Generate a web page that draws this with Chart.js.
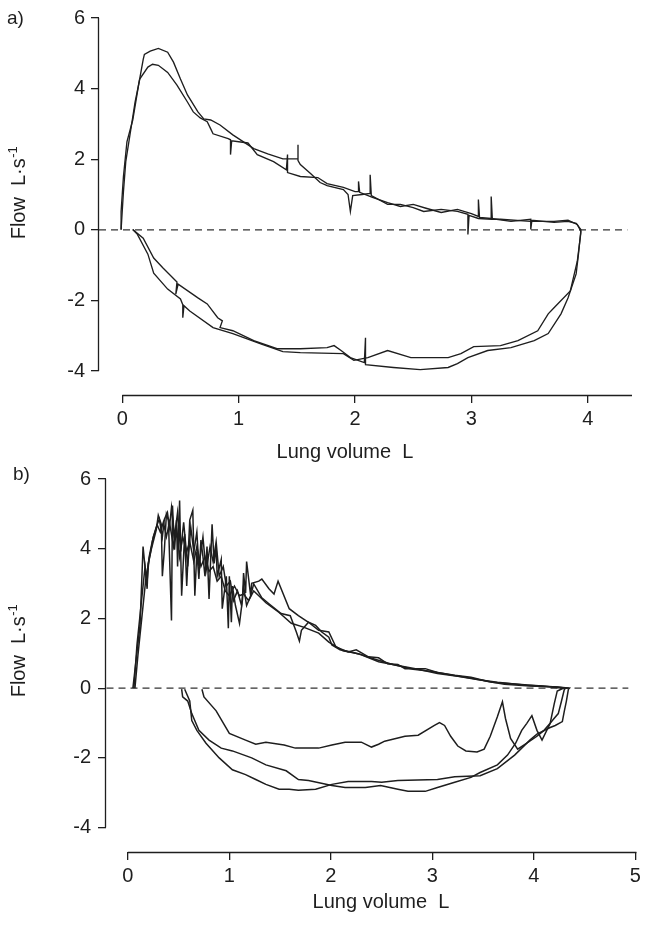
<!DOCTYPE html>
<html>
<head>
<meta charset="utf-8">
<script src="https://cdn.jsdelivr.net/npm/chart.js@4.4.1/dist/chart.umd.min.js"></script>
<style>
  body { margin: 0; background: #fff; }
  .panel { position: absolute; left: 0; width: 645px; }
  #wrapA { top: 0; height: 472px; z-index: 2; }
  #wrapB { top: 460px; height: 466px; z-index: 1; }
</style>
</head>
<body>
<div class="panel" id="wrapA"><canvas id="chartA" width="645" height="472"></canvas></div>
<div class="panel" id="wrapB"><canvas id="chartB" width="645" height="466"></canvas></div>
<script>
// tick labels
const xTicksA = [0, 1, 2, 3, 4];
const xTicksB = [0, 1, 2, 3, 4, 5];
const yTicks = [-4, -2, 0, 2, 4, 6];

// panel a) two loops (expiration then inspiration), volume L / flow L/s
const aLoop1Vol = [-0.01,-0.01,0.01,0.04,0.09,0.14,0.18,0.19,0.24,0.31,0.39,0.44,0.50,0.56,0.65,0.70,0.76,0.84,0.95,1.13,
  1.25,1.38,1.47,1.51,1.51,1.51,1.53,1.62,1.70,1.76,1.90,1.94,1.96,1.98,2.06,2.13,2.13,2.14,2.28,2.39,
  2.50,2.59,2.74,2.88,2.97,2.97,2.98,3.06,3.17,3.17,3.18,3.25,3.51,3.71,3.83,3.91,3.94,
  3.92,3.90,3.83,3.77,3.66,3.54,3.34,3.14,2.97,2.88,2.80,2.56,2.33,2.09,2.09,2.08,1.96,1.88,1.82,1.76,
  1.53,1.33,1.13,0.95,0.84,0.86,0.82,0.73,0.65,0.48,0.46,0.47,0.35,0.27,0.18,0.09];
const aLoop1Flow = [0.00,0.52,1.51,2.49,3.11,4.10,4.83,4.97,5.06,5.14,5.03,4.75,4.27,3.82,3.34,3.14,3.11,2.97,2.69,2.30,
  2.15,2.01,2.01,2.01,2.41,1.96,1.85,1.59,1.34,1.25,1.14,1.00,0.52,0.97,1.00,1.03,1.56,0.97,0.72,0.72,
  0.63,0.52,0.58,0.52,0.44,-0.13,0.41,0.32,0.30,0.94,0.30,0.30,0.24,0.24,0.27,0.15,-0.04,
  -0.69,-1.25,-1.93,-2.38,-2.94,-3.14,-3.34,-3.42,-3.62,-3.79,-3.90,-3.96,-3.90,-3.82,-3.06,-3.76,-3.62,-3.42,-3.28,-3.34,
  -3.37,-3.37,-3.14,-2.86,-2.77,-2.58,-2.49,-2.10,-1.93,-1.54,-1.82,-1.48,-1.08,-0.80,-0.24,0.01];

const aLoop2Vol = [-0.01,0.01,0.03,0.07,0.11,0.15,0.22,0.26,0.31,0.39,0.47,0.56,0.61,0.67,0.73,0.76,0.78,0.91,0.93,0.93,
  0.94,1.08,1.16,1.30,1.41,1.42,1.42,1.53,1.68,1.76,1.90,2.00,2.03,2.03,2.04,2.15,2.28,2.39,2.50,2.61,
  2.74,2.88,3.00,3.06,3.06,3.07,3.17,3.34,3.51,3.51,3.52,3.71,3.83,3.90,3.94,
  3.94,3.91,3.85,3.71,3.66,3.57,3.40,3.25,3.02,2.91,2.80,2.48,2.28,2.11,1.99,1.90,1.53,1.38,1.19,0.95,
  0.78,0.58,0.53,0.52,0.52,0.50,0.39,0.27,0.22,0.13,0.09];
const aLoop2Flow = [0.01,1.08,1.93,2.77,3.62,4.27,4.61,4.69,4.66,4.46,4.10,3.62,3.34,3.17,3.06,2.86,2.72,2.58,2.55,2.13,
  2.52,2.46,2.13,1.93,1.70,2.13,1.62,1.51,1.48,1.31,1.20,1.08,1.08,1.37,1.06,0.92,0.77,0.66,0.72,0.61,
  0.49,0.58,0.46,0.38,0.86,0.35,0.32,0.24,0.30,0.01,0.27,0.21,0.24,0.18,0.01,
  -0.10,-0.89,-1.73,-2.21,-2.38,-2.86,-3.14,-3.28,-3.31,-3.51,-3.62,-3.62,-3.42,-3.62,-3.70,-3.51,-3.48,-3.45,-3.23,-2.94,
  -2.77,-2.30,-2.15,-2.49,-2.12,-1.96,-1.68,-1.23,-0.69,-0.13,0.01];

// panel b) three expirations and three inspirations
const bExp1Vol = [0.05,0.12,0.15,0.19,0.20,0.23,0.28,0.30,0.33,0.34,0.36,0.38,0.40,0.43,0.44,0.46,0.48,0.49,0.51,0.53,
  0.56,0.58,0.61,0.64,0.66,0.68,0.70,0.72,0.74,0.76,0.78,0.80,0.83,0.85,0.87,0.88,0.92,0.93,0.97,0.99,
  1.00,1.02,1.03,1.06,1.10,1.13,1.14,1.16,1.17,1.21,1.22,
  1.29,1.32,1.39,1.44,1.48,1.59,1.68,1.78,1.88,1.98,2.05,2.17,2.25,2.37,2.47,2.56,2.66,2.73,2.93,3.05,
  3.22,3.38,3.54,3.71,3.96,4.23,4.35];
const bExp1Flow = [0.00,1.80,4.06,2.85,3.58,3.97,4.54,4.96,4.70,3.21,3.97,4.99,4.82,1.94,5.24,3.97,4.82,3.49,5.38,2.65,
  4.42,2.93,4.82,5.10,2.65,3.92,3.13,4.25,3.77,3.21,4.06,2.56,4.70,3.58,4.06,3.21,3.69,2.28,3.21,1.72,
  3.21,1.89,2.93,2.37,1.86,2.56,3.30,2.73,3.63,2.65,3.01,
  3.07,3.13,2.85,2.70,3.07,2.28,2.08,1.89,1.66,1.61,1.18,1.04,1.10,0.90,0.87,0.70,0.68,0.56,0.56,0.45,
  0.37,0.31,0.20,0.11,0.06,0.03,0.00];

const bExp2Vol = [0.06,0.09,0.13,0.17,0.19,0.21,0.24,0.28,0.31,0.34,0.36,0.39,0.41,0.43,0.46,0.49,0.52,0.55,0.59,0.62,
  0.65,0.68,0.70,0.74,0.77,0.81,0.84,0.87,0.90,0.94,0.97,1.01,1.04,1.08,1.12,1.14,1.17,1.21,
  1.24,1.32,1.39,1.51,1.60,1.66,1.69,1.71,1.78,1.85,1.91,1.98,2.01,2.09,2.20,2.30,2.47,2.66,2.86,3.05,
  3.25,3.44,3.64,3.93,4.23,4.32];
const bExp2Flow = [0.00,1.24,2.37,3.49,3.07,3.77,4.20,4.62,4.85,4.34,4.85,5.04,4.62,5.18,4.34,5.04,3.92,4.76,3.49,4.62,
  3.92,4.48,3.49,4.34,3.35,4.06,3.63,4.20,3.21,3.49,2.93,3.07,2.51,2.79,2.37,2.93,2.37,2.65,
  2.99,2.59,2.42,2.14,2.08,1.61,1.35,1.66,1.89,1.80,1.61,1.46,1.24,1.10,1.04,0.96,0.76,0.65,0.54,0.42,
  0.34,0.25,0.17,0.08,0.03,0.00];

const bExp3Vol = [0.07,0.10,0.14,0.18,0.22,0.25,0.29,0.32,0.35,0.38,0.41,0.45,0.48,0.51,0.54,0.58,0.61,0.65,0.68,0.72,
  0.76,0.80,0.84,0.88,0.92,0.96,1.00,1.05,1.10,1.14,1.19,1.24,1.29,
  1.36,1.49,1.61,1.73,1.88,1.98,2.12,2.27,2.41,2.61,2.81,3.00,3.20,3.40,3.59,3.84,4.08,4.29];
const bExp3Flow = [0.00,0.96,2.08,3.21,3.83,4.34,4.68,4.48,4.76,4.34,4.76,4.06,4.62,3.77,4.34,3.92,4.20,3.63,4.06,3.49,
  3.77,3.35,3.49,3.07,3.21,2.79,2.65,2.93,2.65,2.70,2.51,2.79,2.65,
  2.45,2.17,1.86,1.75,1.58,1.32,1.07,0.99,0.85,0.68,0.54,0.48,0.37,0.28,0.17,0.11,0.06,0.00];

const bInsp1Vol = [4.34,4.32,4.30,4.28,4.21,4.16,4.03,3.96,3.81,3.64,3.47,3.22,3.05,2.66,2.50,2.40,2.17,2.01,1.85,1.68,
  1.59,1.49,1.36,1.26,1.16,1.03,0.90,0.77,0.68,0.63,0.61,0.56];
const bInsp1Flow = [-0.03,-0.37,-0.65,-0.96,-1.07,-1.13,-1.32,-1.49,-1.92,-2.31,-2.51,-2.54,-2.62,-2.65,-2.70,-2.68,-2.68,-2.76,-2.90,-2.93,
  -2.90,-2.90,-2.76,-2.62,-2.48,-2.34,-2.00,-1.58,-1.21,-0.93,-0.37,-0.03];

const bInsp2Vol = [4.30,4.27,4.24,4.19,4.16,4.08,4.03,3.98,3.93,3.88,3.82,3.74,3.64,3.47,3.38,3.22,3.05,2.93,2.76,2.66,
  2.49,2.34,2.14,2.01,1.78,1.68,1.56,1.36,1.22,1.03,0.92,0.80,0.70,0.63,0.59,0.54,0.53];
const bInsp2Flow = [-0.03,-0.39,-0.73,-0.90,-1.01,-1.49,-1.21,-0.79,-1.01,-1.21,-1.58,-1.92,-2.20,-2.42,-2.56,-2.70,-2.85,-2.96,-2.96,-2.90,
  -2.79,-2.85,-2.85,-2.79,-2.65,-2.62,-2.37,-2.20,-2.00,-1.80,-1.72,-1.49,-1.21,-0.73,-0.37,-0.25,-0.03];

const bInsp3Vol = [4.23,4.20,4.18,4.16,4.10,4.03,3.93,3.84,3.77,3.72,3.69,3.64,3.57,3.51,3.44,3.33,3.25,3.18,3.12,3.07,
  3.02,2.86,2.73,2.53,2.47,2.40,2.30,2.14,2.01,1.88,1.65,1.54,1.36,1.26,1.16,1.00,0.87,0.75,0.73];
const bInsp3Flow = [-0.08,-0.45,-0.73,-1.01,-1.21,-1.38,-1.58,-1.75,-1.44,-0.87,-0.39,-0.82,-1.38,-1.75,-1.83,-1.80,-1.66,-1.38,-1.07,-0.99,
  -1.07,-1.35,-1.38,-1.52,-1.61,-1.69,-1.55,-1.55,-1.63,-1.72,-1.72,-1.63,-1.55,-1.61,-1.49,-1.30,-0.65,-0.25,-0.03];

// dashed zero-flow line ends
const zeroVolA = [-0.2, 4.34];
const zeroVolB = [-0.21, 4.93];
const zeroFlow = [0, 0];

const ink = '#1e1e1e';
const fontFam = '"Liberation Sans", Arial, Helvetica, sans-serif';
Chart.defaults.font.family = fontFam;
Chart.defaults.color = ink;

function pts(vol, flow) {
  return vol.map((v, i) => ({ x: v, y: flow[i] }));
}

// axis lines that only run between the end ticks, like the figure
const axisLines = {
  id: 'axisLines',
  afterDraw(chart, args, opts) {
    const { ctx, scales: { x, y } } = chart;
    ctx.save();
    ctx.strokeStyle = ink;
    ctx.lineWidth = 1.3;
    ctx.beginPath();
    const xy = Math.round(x.top) + 0.5;
    ctx.moveTo(x.getPixelForValue(opts.xFrom), xy);
    ctx.lineTo(x.right, xy);
    const yx = Math.round(y.right) - 0.5;
    ctx.moveTo(yx, y.getPixelForValue(yTicks[0]));
    ctx.lineTo(yx, y.getPixelForValue(yTicks[yTicks.length - 1]));
    ctx.stroke();
    ctx.restore();
  }
};

// panel letter and axis titles (y title has a superscript)
const panelText = {
  id: 'panelText',
  afterDraw(chart, args, o) {
    const ctx = chart.ctx;
    ctx.save();
    ctx.fillStyle = ink;
    ctx.textBaseline = 'alphabetic';
    ctx.font = '19px ' + fontFam;
    ctx.textAlign = 'left';
    ctx.fillText(o.label, o.labelX, o.labelY);

    ctx.font = '20px ' + fontFam;
    ctx.textAlign = 'center';
    ctx.fillText('Lung volume  L', o.xTitleX, o.xTitleY);

    ctx.translate(o.yTitleX, o.yTitleY);
    ctx.rotate(-Math.PI / 2);
    ctx.textAlign = 'left';
    const main = 'Flow  L\u00b7s';
    ctx.font = '20px ' + fontFam;
    const w1 = ctx.measureText(main).width;
    ctx.font = '13px ' + fontFam;
    const w2 = ctx.measureText('-1').width;
    const start = -(w1 + w2) / 2;
    ctx.font = '20px ' + fontFam;
    ctx.fillText(main, start, 0);
    ctx.font = '13px ' + fontFam;
    ctx.fillText('-1', start + w1 + 0.5, -8);
    ctx.restore();
  }
};

function makeChart(id, c) {
  const lines = c.loops.map(l => ({
    data: pts(l[0], l[1]),
    showLine: true,
    borderColor: ink,
    borderWidth: c.lineW,
    pointRadius: 0,
    fill: false
  }));
  lines.push({
    data: pts(c.zeroVol, zeroFlow),
    showLine: true,
    borderColor: '#333',
    borderWidth: 1.2,
    borderDash: [7, 5],
    pointRadius: 0
  });
  return new Chart(document.getElementById(id), {
    type: 'scatter',
    data: { datasets: lines },
    options: {
      responsive: false,
      animation: false,
      layout: { padding: { top: c.padTop, right: c.padRight, left: 0, bottom: 0 } },
      plugins: {
        legend: { display: false },
        tooltip: { enabled: false },
        axisLines: { xFrom: c.xTicks[0] },
        panelText: c.text
      },
      scales: {
        x: {
          type: 'linear',
          min: c.xMin,
          max: c.xMax,
          afterBuildTicks: s => { s.ticks = c.xTicks.map(v => ({ value: v })); },
          afterFit: s => { s.height = c.xAxisH; },
          border: { display: false },
          grid: { drawOnChartArea: false, drawTicks: true, tickLength: 8, color: ink, lineWidth: 1.3 },
          ticks: { padding: 4, color: ink, font: { size: 20 }, callback: v => String(v) }
        },
        y: {
          type: 'linear',
          min: c.yMin,
          max: 6,
          afterBuildTicks: s => { s.ticks = yTicks.map(v => ({ value: v })); },
          afterFit: s => { s.width = c.yAxisW; },
          border: { display: false },
          grid: { drawOnChartArea: false, drawTicks: true, tickLength: 8, color: ink, lineWidth: 1.3 },
          ticks: { padding: c.yPad, color: ink, font: { size: 20 }, callback: v => String(v) }
        }
      }
    },
    plugins: [axisLines, panelText]
  });
}

makeChart('chartA', {
  loops: [[aLoop1Vol, aLoop1Flow], [aLoop2Vol, aLoop2Flow]],
  zeroVol: zeroVolA,
  xTicks: xTicksA,
  xMin: -0.2, xMax: 4.38, yMin: -4.68,
  padTop: 16, padRight: 13, xAxisH: 77, yAxisW: 99, yPad: 6, lineW: 1.35,
  text: { label: 'a)', labelX: 7, labelY: 24, xTitleX: 345, xTitleY: 458, yTitleX: 25, yTitleY: 193 }
});

makeChart('chartB', {
  loops: [
    [bExp1Vol.concat(bInsp1Vol), bExp1Flow.concat(bInsp1Flow)],
    [bExp2Vol.concat(bInsp2Vol), bExp2Flow.concat(bInsp2Flow)],
    [bExp3Vol.concat(bInsp3Vol), bExp3Flow.concat(bInsp3Flow)]
  ],
  zeroVol: zeroVolB,
  xTicks: xTicksB,
  xMin: -0.215, xMax: 5.01, yMin: -4.7,
  padTop: 12, padRight: 5, xAxisH: 74, yAxisW: 106, yPad: 7, lineW: 1.5,
  text: { label: 'b)', labelX: 13, labelY: 20, xTitleX: 381, xTitleY: 448, yTitleX: 25, yTitleY: 191 }
});
</script>
</body>
</html>
